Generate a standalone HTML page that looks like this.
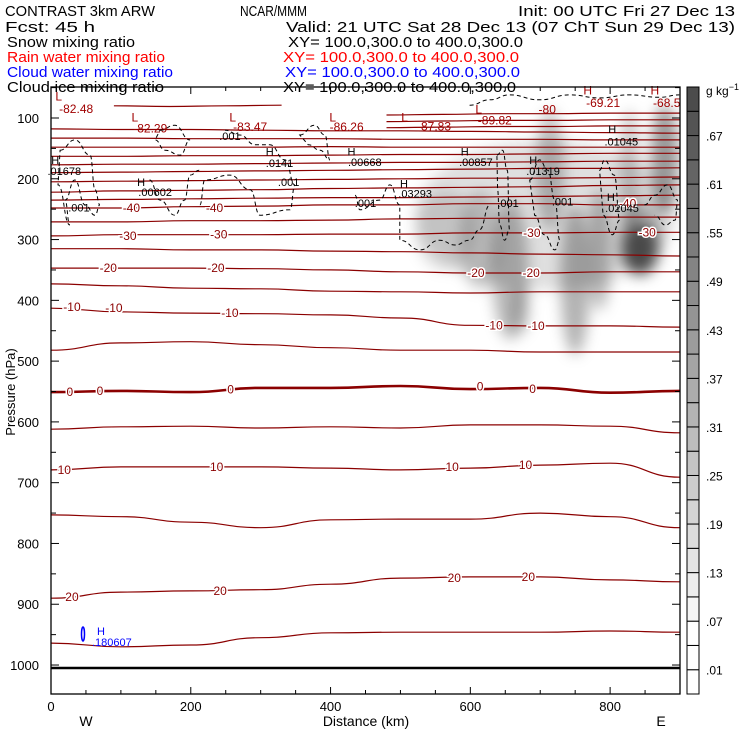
<!DOCTYPE html>
<html><head><meta charset="utf-8"><style>
html,body{margin:0;padding:0;background:#fff;}
svg{display:block;font-family:"Liberation Sans",sans-serif;}
</style></head><body>
<svg id="chart" width="740" height="740" viewBox="0 0 740 740" xmlns="http://www.w3.org/2000/svg">
<defs>
<filter id="blur" x="-50%" y="-50%" width="200%" height="200%"><feGaussianBlur stdDeviation="7"/></filter>
<clipPath id="plotclip"><rect x="51" y="87" width="629" height="607"/></clipPath>
</defs>
<rect width="740" height="740" fill="#fff"/>
<g font-size="15">
<text x="5" y="16" textLength="150" lengthAdjust="spacingAndGlyphs">CONTRAST  3km ARW</text>
<text x="240" y="16" textLength="67" lengthAdjust="spacingAndGlyphs">NCAR/MMM</text>
<text x="518" y="16" textLength="217" lengthAdjust="spacingAndGlyphs">Init: 00 UTC Fri 27 Dec 13</text>
<text x="5" y="32" textLength="90" lengthAdjust="spacingAndGlyphs">Fcst:   45 h</text>
<text x="286" y="32" textLength="449" lengthAdjust="spacingAndGlyphs">Valid: 21 UTC Sat 28 Dec 13 (07 ChT Sun 29 Dec 13)</text>
<text x="7" y="47" textLength="128" lengthAdjust="spacingAndGlyphs">Snow mixing ratio</text>
<text x="288" y="47" textLength="235" lengthAdjust="spacingAndGlyphs">XY=  100.0,300.0 to 400.0,300.0</text>
<text x="7" y="62" fill="#f00" textLength="158" lengthAdjust="spacingAndGlyphs">Rain water mixing ratio</text>
<text x="283" y="62" fill="#f00" textLength="236" lengthAdjust="spacingAndGlyphs">XY=  100.0,300.0 to 400.0,300.0</text>
<text x="7" y="77" fill="#00f" textLength="166" lengthAdjust="spacingAndGlyphs">Cloud water mixing ratio</text>
<text x="285" y="77" fill="#00f" textLength="235" lengthAdjust="spacingAndGlyphs">XY=  100.0,300.0 to 400.0,300.0</text>
<text x="7" y="92" textLength="157" lengthAdjust="spacingAndGlyphs">Cloud ice mixing ratio</text>
<text x="283" y="92" textLength="233" lengthAdjust="spacingAndGlyphs">XY=  100.0,300.0 to 400.0,300.0</text>
</g>
<g id="shade" clip-path="url(#plotclip)" filter="url(#blur)"></g>
<g id="iso" clip-path="url(#plotclip)"></g>
<g id="ice" clip-path="url(#plotclip)"></g>
<g id="labels"></g>
<g id="axes"></g>
<g id="cbar"></g>
</svg>
<script>
// ---- data ----
const distances = [0,100,200,300,400,500,600,700,800,900];
const isoLevels = [25,20,15,10,5,0,-5,-10,-15,-20,-25,-30,-35,-40,-45,-50,-55,-60,-65,-70,-75,-80,-85];
const iso25 = [964,970,967,955,947,946,946,946,944,946];
const iso20 = [890,880,878,876,867,857,855,855,860,863];
const iso15 = [753,756,765,774,761,760,760,750,756,774];
const iso10 = [679,674,674,674,676,679,676,671,668,691];
const iso5 = [612,608,607,610,608,610,605,605,607,618];
const iso0 = [551,549,551,544,544,541,546,544,552,549];
const isoM5 = [482,470,468,473,478,482,482,485,485,485];
const isoM10 = [413,419,421,422,424,429,441,442,442,444];
const isoM15 = [373,376,380,381,385,386,388,386,386,386];
const isoM20 = [347,347,347,348,350,353,355,355,353,353];
const isoM25 = [315,315,317,317,319,320,322,324,325,327];
const isoM30 = [294,292,292,292,291,291,289,289,288,288];
const isoM35 = [271,271,269,269,268,266,265,265,263,263];
const isoM40 = [248,248,246,245,243,243,241,241,243,243];
const isoM45 = [235,234,233,232,231,231,230,229,228,227];
const isoM50 = [222,220,219,218,216,215,214,213,211,210];
const isoM55 = [205,204,203,202,201,200,199,199,198,197];
const isoM60 = [190,189,188,187,186,185,184,183,183,182];
const isoM65 = [177,176,176,175,174,173,173,172,171,171];
const isoM70 = [163,163,162,162,161,160,160,159,158,158];
const isoM75 = [148,148,148,148,147,148,148,148,148,148];
const isoM80 = [133,133,134,134,134,135,135,135,136,136];
const isoM85 = [118,119,119,120,121,121,122,123,124,125];
const upperDist = [480,560,640,720,800,900];
const upperA = [116,115,114,114,113,113];
const upperB = [106,105,104,104,103,103];
const upperC = [95,94,93,93,92,92];
const topLeftDist = [90,170,250,330];
const topLeftP = [80,81,80,79];
// isotherm labels: [level, km, hPa]
const isoLabelLevels = [-40,-40,-40,-30,-30,-30,-30,-20,-20,-20,-20,-10,-10,-10,-10,-10,0,0,0,0,0,10,10,10,10,20,20,20,20];
const isoLabelKm = [115,234,825,110,240,688,853,82,236,608,687,30,90,256,634,694,27,70,257,614,689,19,237,574,679,30,242,577,683];
const isoLabelP = [248,248,241,294,292,289,288,347,347,355,355,411,413,421,441,442,551,549,547,542,546,679,674,674,671,888,878,857,855];
// extrema labels [text, km, hPa, kind]
const extText = ["L","-82.48","L","-82.29","L","-83.47","L","-86.26","L","-87.83","L","-89.82","-80","H","-69.21","H","-68.5"];
const extKm = [11,36,120,142,260,285,403,423,506,548,612,635,710,768,790,864,881];
const extP = [65,85,99,117,99,115,99,115,99,114,86,104,86,55,75,55,75];
const iceText = ["H",".01678","H",".00602",".001","H",".0141",".001",".001","H",".00668","H",".03293",".001","H",".00857","H",".01319",".001",".001","H",".01045","H",".02045"];
const iceKm = [6,19,129,149,256,313,327,340,40,430,449,505,521,450,592,608,690,704,654,732,803,816,801,817];
const iceP = [169,187,205,222,130,155,174,205,247,155,172,208,224,240,155,172,169,187,240,237,118,139,230,248];
// snow mixing ratio blobs (g/kg): km, hPa, half-width km, half-height hPa
const blobKm = [707,657,671,750,785,843,878,564,614,714,828,843];
const blobP = [260,350,416,367,317,317,169,284,301,186,186,300];
const blobW = [186,26,14,21,17,26,20,43,29,20,14,30];
const blobH = [123,115,41,123,99,41,90,66,82,99,99,60];
const blobVal = [0.14,0.3,0.2,0.33,0.3,0.62,0.45,0.14,0.2,0.28,0.25,0.3];
// cloud ice .001 contours
const iceA_km=[13,34,56,63,70,63,49,34,20,27,10], iceA_p=[153,136,161,218,243,260,243,202,235,276,210];
const iceB_km=[156,177,199,185,163,149], iceB_p=[120,112,136,161,153,136];
const iceC_km=[141,156,177,191,199,212], iceC_p=[202,235,260,235,194,186];
const iceD_km=[213,220,256,285,299,342,349,335,313,292,270,249], iceD_p=[243,202,194,218,260,251,210,169,144,144,128,120];
const iceE_km=[356,377,392,399,385,368], iceE_p=[128,112,128,169,153,144];
const iceF_km=[435,442,470,485,499,499,528,556,578,599,613,628], iceF_p=[227,251,235,210,243,301,317,301,309,301,284,243];
const iceG_km=[638,646,653,656,649,642,639], iceG_p=[161,153,186,284,301,276,218];
const iceH_km=[685,699,711,721,728,721,706,692], iceH_p=[202,169,186,235,301,317,292,260];
const iceI_km=[785,792,806,814,803,790], iceI_p=[186,169,194,268,292,260];
const iceJ_km=[849,864,882,897,893,879,864], iceJ_p=[243,227,210,235,268,276,260];
const iceK_km=[599,628,656,699,742,785,828,871,899], iceK_p=[79,70,62,70,62,67,62,66,62];
// axes
const yTicks = [100,200,300,400,500,600,700,800,900,1000];
const xTicks = [0,200,400,600,800];
const cbLabels = [".01",".07",".13",".19",".25",".31",".37",".43",".49",".55",".61",".67"];
const cbGray = [255,255,255,245,236,228,220,212,204,196,188,180,172,164,156,148,140,132,124,116,108,100,92,84,76];

// ---- axis functions ----
const X = km => 51 + km*0.6989;
const Y = p => 118 + (p-100)*0.6078;
const NS = "http://www.w3.org/2000/svg";
function mk(tag, attrs, parent){const e=document.createElementNS(NS,tag);for(const k in attrs)e.setAttribute(k,attrs[k]);parent.appendChild(e);return e;}
function pathFrom(kms, ps, closed){
  const pts = kms.map((k,i)=>[X(k),Y(ps[i])]);
  let d = "M"+pts[0][0].toFixed(1)+","+pts[0][1].toFixed(1);
  for(let i=1;i<pts.length;i++){
    const p0=pts[i-1],p1=pts[i];
    const mx=(p0[0]+p1[0])/2;
    d+=" C"+mx.toFixed(1)+","+p0[1].toFixed(1)+" "+mx.toFixed(1)+","+p1[1].toFixed(1)+" "+p1[0].toFixed(1)+","+p1[1].toFixed(1);
  }
  if(closed) d+=" Z";
  return d;
}
const svg = document.getElementById("chart");

// shading
const shade = document.getElementById("shade");
blobKm.forEach((k,i)=>{
  const e = mk("ellipse",{cx:X(k),cy:Y(blobP[i]),rx:blobW[i]*0.6989,ry:blobH[i]*0.6078,fill:"#000","fill-opacity":blobVal[i]*0.9},shade);
  
  
});

// isotherms
const iso = document.getElementById("iso");
const isoSeries = [iso25,iso20,iso15,iso10,iso5,iso0,isoM5,isoM10,isoM15,isoM20,isoM25,isoM30,isoM35,isoM40,isoM45,isoM50,isoM55,isoM60,isoM65,isoM70,isoM75,isoM80,isoM85];
isoSeries.forEach((s,i)=>{
  const e = mk("path",{d:pathFrom(distances,s,false),fill:"none",stroke:"#8b0000","stroke-width":isoLevels[i]===0?2.6:1.2},iso);
  
  
});
[[upperA,upperDist],[upperB,upperDist],[upperC,upperDist],[topLeftP,topLeftDist]].forEach(pair=>{
  const e = mk("path",{d:pathFrom(pair[1],pair[0],false),fill:"none",stroke:"#8b0000","stroke-width":1.2},iso);
  
  
});

// cloud ice contours
const ice = document.getElementById("ice");
const iceShapes = [[iceA_km,iceA_p,1],[iceB_km,iceB_p,1],[iceC_km,iceC_p,0],[iceD_km,iceD_p,0],[iceE_km,iceE_p,1],[iceF_km,iceF_p,0],[iceG_km,iceG_p,1],[iceH_km,iceH_p,1],[iceI_km,iceI_p,1],[iceJ_km,iceJ_p,0],[iceK_km,iceK_p,0]];
iceShapes.forEach(s=>{
  const e = mk("path",{d:pathFrom(s[0],s[1],!!s[2]),fill:"none",stroke:"#000","stroke-width":1,"stroke-dasharray":"4,3"},ice);
  
  
});

// labels
const lab = document.getElementById("labels");
isoLabelLevels.forEach((lv,i)=>{
  const t = mk("text",{x:X(isoLabelKm[i]),y:Y(isoLabelP[i])+4,"font-size":12,fill:"#8b0000","text-anchor":"middle",stroke:"#fff","stroke-width":3,"paint-order":"stroke"},lab);
  t.textContent = String(lv);
  
  
});
extText.forEach((tx,i)=>{
  const t = mk("text",{x:X(extKm[i]),y:Y(extP[i])+4,"font-size":12,fill:"#a00000","text-anchor":"middle"},lab);
  t.textContent = tx;
  
  
});
iceText.forEach((tx,i)=>{
  const t = mk("text",{x:X(iceKm[i]),y:Y(iceP[i])+4,"font-size":11,fill:"#000","text-anchor":"middle"},lab);
  t.textContent = tx;
  
  
});
// cloud water (blue) marker
const bl = mk("ellipse",{cx:83,cy:634,rx:1.5,ry:7,fill:"none",stroke:"#00f","stroke-width":1.5},lab);


const bh = mk("text",{x:97,y:635,"font-size":11,fill:"#00f"},lab); bh.textContent="H";


const bv = mk("text",{x:92,y:646,"font-size":11,fill:"#00f"},lab); bv.textContent=".180607";



// axes
const ax = document.getElementById("axes");
const ground = mk("line",{x1:51,x2:680,y1:Y(1005),y2:Y(1005),stroke:"#000","stroke-width":2.5},ax);


const frame = mk("rect",{x:51,y:87,width:629,height:607,fill:"none",stroke:"#000","stroke-width":1.3},ax);


for(let p=50;p<=1000;p+=50){
  const L = p%100===0?8:5;
  const a = mk("line",{x1:51,x2:51+L,y1:Y(p),y2:Y(p),stroke:"#000"},ax);
  
  
  const b = mk("line",{x1:680-L,x2:680,y1:Y(p),y2:Y(p),stroke:"#000"},ax);
  
  
}
yTicks.forEach(p=>{
  const t = mk("text",{x:39,y:Y(p)+5,"font-size":13,"text-anchor":"end"},ax); t.textContent=String(p);
  
  
});
for(let k=0;k<=900;k+=50){
  const L = k%200===0?7:4;
  const a = mk("line",{x1:X(k),x2:X(k),y1:694,y2:694-L,stroke:"#000"},ax);
  
  
  const b = mk("line",{x1:X(k),x2:X(k),y1:87,y2:87+L,stroke:"#000"},ax);
  
  
}
xTicks.forEach(k=>{
  const t = mk("text",{x:X(k),y:711,"font-size":13,"text-anchor":"middle"},ax); t.textContent=String(k);
  
  
});
const xt = mk("text",{x:366,y:726,"font-size":14,"text-anchor":"middle"},ax); xt.textContent="Distance (km)";


const wt = mk("text",{x:86,y:726,"font-size":14,"text-anchor":"middle"},ax); wt.textContent="W";


const et = mk("text",{x:661,y:726,"font-size":14,"text-anchor":"middle"},ax); et.textContent="E";


const yt = mk("text",{x:0,y:0,"font-size":13,"text-anchor":"middle",transform:"translate(15,392) rotate(-90)"},ax); yt.textContent="Pressure (hPa)";



// colorbar
const cb = document.getElementById("cbar");
const cbTop=87, cbBot=694, nBox=cbGray.length, bh2=(cbBot-cbTop)/nBox;
cbGray.forEach((g,i)=>{
  const y = cbBot-(i+1)*bh2;
  const r = mk("rect",{x:687,y:y,width:12,height:bh2,fill:"rgb("+g+","+g+","+g+")",stroke:"#000","stroke-width":1},cb);
  
  
});
cbLabels.forEach((s,i)=>{
  const y = cbBot-(1+2*i)*bh2;
  const t = mk("text",{x:706,y:y+5,"font-size":12},cb); t.textContent=s;
  
  
});
const unit = mk("text",{x:706,y:95,"font-size":12},cb);


unit.textContent="g kg";
const sup = mk("tspan",{dy:-5,"font-size":9},unit); sup.textContent="−1";
</script>
</body></html>
